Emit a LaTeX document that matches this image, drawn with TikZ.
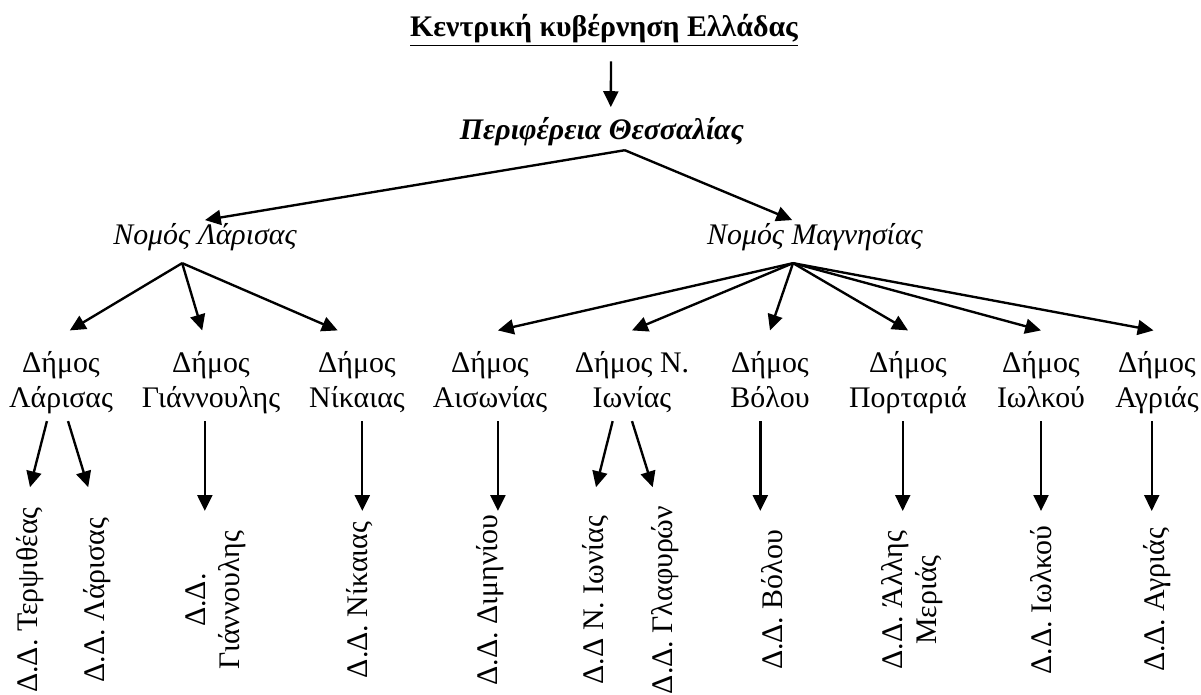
\documentclass[tikz,border=0pt]{standalone}
\usepackage{fontspec}
\setmainfont{Liberation Serif}
\usetikzlibrary{arrows.meta}

\begin{document}
\begin{tikzpicture}[
    font=\fontsize{17pt}{19.4pt}\selectfont,
    every node/.style={inner sep=2pt},
    arr/.style={line width=1.35pt,-{Triangle[length=9pt,width=8.5pt]}},
    dhm/.style={align=center,anchor=north,execute at end node=\strut},
    dd/.style={rotate=90,inner sep=0pt,minimum width=101pt},
    ddlong/.style={dd,minimum width=128pt}
]
    \useasboundingbox (0,0) rectangle (24.02,13.88);

    % top levels
    \node[anchor=base,inner ysep=8pt] (kyv) at (12.08,13.14) {\bfseries\underline{Κεντρική κυβέρνηση Ελλάδας}};
    \node[anchor=base] (peri) at (12.04,11.08) {\bfseries\itshape Περιφέρεια Θεσσαλίας};
    \node[anchor=base] (nlar) at (4.10,8.98) {\itshape Νομός Λάρισας};
    \node[anchor=base] (nmag) at (16.30,8.98) {\itshape Νομός Μαγνησίας};

    \coordinate (peri-o) at ([xshift=13pt]peri.south);
    \coordinate (nlar-o) at ([xshift=-13pt,yshift=-4.5pt]nlar.south);
    \coordinate (nmag-o) at ([xshift=-12.5pt,yshift=-4.5pt]nmag.south);

    \draw[arr] ([xshift=4pt]kyv.south) -- ([xshift=5pt,yshift=4pt]peri.north);
    \draw[arr] (peri-o) -- (nlar.north);
    \draw[arr] (peri-o) -- ([xshift=-13pt]nmag.north);

    % dimoi
    \node[dhm] (dlar) at (1.22,6.92) {Δήμος\\Λάρισας};
    \node[dhm] (dgia) at (4.22,6.92) {Δήμος\\Γιάννουλης};
    \node[dhm] (dnik) at (7.14,6.92) {Δήμος\\Νίκαιας};
    \node[dhm] (dais) at (9.80,6.92) {Δήμος\\Αισωνίας};
    \node[dhm] (dion) at (12.64,6.92) {Δήμος Ν.\\Ιωνίας};
    \node[dhm] (dvol) at (15.40,6.92) {Δήμος\\Βόλου};
    \node[dhm] (dpor) at (18.16,6.92) {Δήμος\\Πορταριά};
    \node[dhm] (diol) at (20.82,6.92) {Δήμος\\Ιωλκού};
    \node[dhm] (dagr) at (23.14,6.92) {Δήμος\\Αγριάς};

    \draw[arr] (nlar-o) -- ([xshift=5pt,yshift=10pt]dlar.north);
    \draw[arr] (nlar-o) -- ([xshift=-5pt,yshift=10pt]dgia.north);
    \draw[arr] (nlar-o) -- ([xshift=-11pt,yshift=10pt]dnik.north);
    \draw[arr] (nmag-o) -- ([xshift=4.5pt,yshift=10pt]dais.north);
    \draw[arr] (nmag-o) -- ([yshift=10pt]dion.north);
    \draw[arr] (nmag-o) -- ([yshift=10pt]dvol.north);
    \draw[arr] (nmag-o) -- ([yshift=10pt]dpor.north);
    \draw[arr] (nmag-o) -- ([yshift=10pt]diol.north);
    \draw[arr] (nmag-o) -- ([xshift=-2pt,yshift=10pt]dagr.north);

    % dimotika diamerismata
    \node[ddlong] (ddter) at (0.60,1.88) {Δ.Δ. Τερψιθέας};
    \node[ddlong] (ddlar) at (1.94,1.88) {Δ.Δ. Λάρισας};
    \node[dd,align=center] (ddgia) at (4.32,1.88) {Δ.Δ.\\Γιάννουλης};
    \node[dd] (ddnik) at (7.20,1.88) {Δ.Δ. Νίκαιας};
    \node[dd] (dddim) at (9.80,1.88) {Δ.Δ. Διμηνίου};
    \node[ddlong] (ddion) at (11.92,1.88) {Δ.Δ Ν. Ιωνίας};
    \node[ddlong] (ddgla) at (13.30,1.88) {Δ.Δ. Γλαφυρών};
    \node[dd] (ddvol) at (15.44,1.88) {Δ.Δ. Βόλου};
    \node[dd,align=center] (ddall) at (18.24,1.88) {Δ.Δ. Άλλης\\Μεριάς};
    \node[dd] (ddiol) at (20.82,1.88) {Δ.Δ. Ιωλκού};
    \node[dd] (ddagr) at (23.14,1.88) {Δ.Δ. Αγριάς};

    \draw[arr] ([xshift=-8pt]dlar.south) -- (ddter.east);
    \draw[arr] ([xshift=4pt]dlar.south) -- ([xshift=-5pt]ddlar.east);
    \draw[arr] ([xshift=-3.5pt]dgia.south) -- ([xshift=-3.5pt]dgia.south |- ddgia.east);
    \draw[arr] ([xshift=3pt]dnik.south) -- ([xshift=3pt]dnik.south |- ddnik.east);
    \draw[arr] ([xshift=4.5pt]dais.south) -- ([xshift=4.5pt]dais.south |- dddim.east);
    \draw[arr] ([xshift=-11pt]dion.south) -- (ddion.east);
    \draw[arr] (dion.south) -- ([xshift=-7pt]ddgla.east);
    \draw[arr] ([xshift=-5.5pt]dvol.south) -- ([xshift=-5.5pt]dvol.south |- ddvol.east);
    \draw[arr] ([xshift=-3pt]dpor.south) -- ([xshift=-3pt]dpor.south |- ddall.east);
    \draw[arr] (diol.south) -- (diol.south |- ddiol.east);
    \draw[arr] ([xshift=-3pt]dagr.south) -- ([xshift=-3pt]dagr.south |- ddagr.east);
\end{tikzpicture}
\end{document}
